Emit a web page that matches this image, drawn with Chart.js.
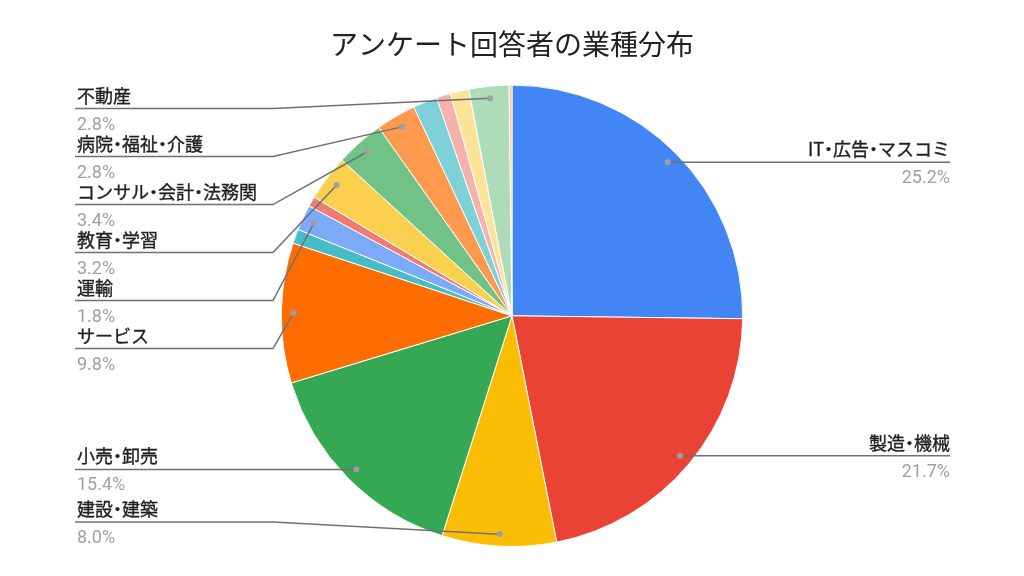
<!DOCTYPE html>
<html lang="ja">
<head>
<meta charset="utf-8">
<title>アンケート回答者の業種分布</title>
<script src="https://cdn.jsdelivr.net/npm/chart.js@4.4.1/dist/chart.umd.min.js"></script>
<style>
  html, body { margin: 0; padding: 0; background: #fff; }
  #wrap { width: 1024px; height: 576px; position: relative; }
</style>
</head>
<body>
<div id="wrap"><canvas id="chart"></canvas></div>
<script>
// slices clockwise from 12 o'clock (share of respondents, %)
const industries = [
  'IT・広告・マスコミ', '製造・機械', '建設・建築', '小売・卸売', 'サービス',
  '金融・保険', '運輸', '公務', '教育・学習', 'コンサル・会計・法務関',
  '病院・福祉・介護', '飲食・宿泊', '農林水産', 'エネルギー', '不動産', 'その他'
];
const shares = [25.2, 21.7, 8.0, 15.4, 9.8, 1.0, 1.8, 0.7, 3.2, 3.4, 2.8, 1.7, 1.0, 1.3, 2.8, 0.2];

// Google Sheets default palette
const sliceColors = [
  '#4285F4', '#EA4335', '#FBBC04', '#34A853', '#FF6D01',
  '#46BDC6', '#7BAAF7', '#F07B72', '#FCD04F', '#71C287',
  '#FF994D', '#7ED1D7', '#F5B2AD', '#FDE39A', '#AEDCB9', '#FFC08F'
];

// slices smaller than this get no label (like the sheet does)
const minLabelShare = 1.8;

const cjkFont = '"Noto Sans CJK JP", "Noto Sans", sans-serif';

// "・" is drawn half width, like the proportional font in the original
const nameWidth = (ctx, s) => {
  let w = 0;
  for (const ch of s) {
    const full = ctx.measureText(ch).width;
    w += ch === '・' ? full * 0.5 : full;
  }
  return w;
};
const drawName = (ctx, s, x, y) => {
  for (const ch of s) {
    const full = ctx.measureText(ch).width;
    let dx = 0, adv = full;
    if (ch === '・') {
      adv = full * 0.5;
      dx = -(full - adv) / 2;
    }
    ctx.fillText(ch, x + dx, y);
    ctx.strokeText(ch, x + dx, y); // a bit heavier, like the medium weight in the sheet
    x += adv;
  }
};

const leaderLabels = {
  id: 'leaderLabels',
  afterDatasetsDraw(chart) {
    const ctx = chart.ctx;
    const area = chart.chartArea;
    const meta = chart.getDatasetMeta(0);
    const data = chart.data.datasets[0].data;
    const total = data.reduce((a, b) => a + b, 0);
    const left = [], right = [];
    let cx = 0;

    meta.data.forEach((arc, i) => {
      const pct = data[i] / total * 100;
      if (pct < minLabelShare - 1e-9) return;
      const p = arc.getProps(['x', 'y', 'startAngle', 'endAngle', 'outerRadius'], true);
      cx = p.x;
      const mid = (p.startAngle + p.endAngle) / 2;
      const r = p.outerRadius - 12;
      const dot = { x: p.x + Math.cos(mid) * r, y: p.y + Math.sin(mid) * r };
      const item = { i, pct, dot, y: dot.y };
      (dot.x >= p.x ? right : left).push(item);
    });

    // stack labels so they don't overlap
    const gap = 48, topY = area.top + 24, botY = area.bottom - 25;
    const stack = (list) => {
      list.sort((a, b) => a.dot.y - b.dot.y);
      for (let k = list.length - 1; k >= 0; k--) {
        const lim = k === list.length - 1 ? botY : list[k + 1].y - gap;
        list[k].y = Math.min(list[k].y, lim);
      }
      for (let k = 0; k < list.length; k++) {
        const lim = k === 0 ? topY : list[k - 1].y + gap;
        list[k].y = Math.max(list[k].y, lim);
      }
    };
    stack(left);
    stack(right);

    const leftX = 75, leftElbow = 273, rightX = 950;

    const drawOne = (item, side) => {
      const y = item.y;
      ctx.save();
      // leader line
      ctx.strokeStyle = '#707070';
      ctx.lineWidth = 1.5;
      ctx.beginPath();
      if (side === 'left') {
        ctx.moveTo(leftX, y);
        ctx.lineTo(leftElbow, y);
      } else {
        ctx.moveTo(rightX, y);
        ctx.lineTo(Math.max(item.dot.x, cx + 250), y);
      }
      ctx.lineTo(item.dot.x, item.dot.y);
      ctx.stroke();
      // dot
      ctx.fillStyle = '#9e9e9e';
      ctx.beginPath();
      ctx.arc(item.dot.x, item.dot.y, 3, 0, Math.PI * 2);
      ctx.fill();

      // name
      const name = industries[item.i];
      ctx.font = '18px ' + cjkFont;
      ctx.fillStyle = '#222';
      ctx.strokeStyle = '#222';
      ctx.lineWidth = 0.35;
      ctx.textAlign = 'left';
      ctx.textBaseline = 'alphabetic';
      const nx = side === 'left' ? leftX + 2 : rightX - nameWidth(ctx, name);
      drawName(ctx, name, nx, y - 6);

      // percentage
      ctx.font = '18px Roboto, "Noto Sans", sans-serif';
      ctx.fillStyle = '#a0a0a0';
      const txt = item.pct.toFixed(1) + '%';
      if (side === 'left') {
        ctx.fillText(txt, leftX + 2, y + 21);
      } else {
        ctx.textAlign = 'right';
        ctx.fillText(txt, rightX, y + 21);
      }
      ctx.restore();
    };

    left.forEach(it => drawOne(it, 'left'));
    right.forEach(it => drawOne(it, 'right'));
  }
};

new Chart(document.getElementById('chart'), {
  type: 'pie',
  data: {
    labels: industries,
    datasets: [{
      data: shares,
      backgroundColor: sliceColors,
      borderColor: '#ffffff',
      borderWidth: 1
    }]
  },
  options: {
    responsive: true,
    maintainAspectRatio: false,
    animation: false,
    layout: { padding: { top: 0, bottom: 29, left: 0, right: 0 } },
    plugins: {
      legend: { display: false },
      tooltip: { enabled: false },
      title: {
        display: true,
        text: 'アンケート回答者の業種分布',
        color: '#222',
        font: { family: cjkFont, size: 28, weight: 'normal', lineHeight: 1.2 },
        padding: { top: 28, bottom: 23 }
      }
    }
  },
  plugins: [leaderLabels]
});
</script>
</body>
</html>
